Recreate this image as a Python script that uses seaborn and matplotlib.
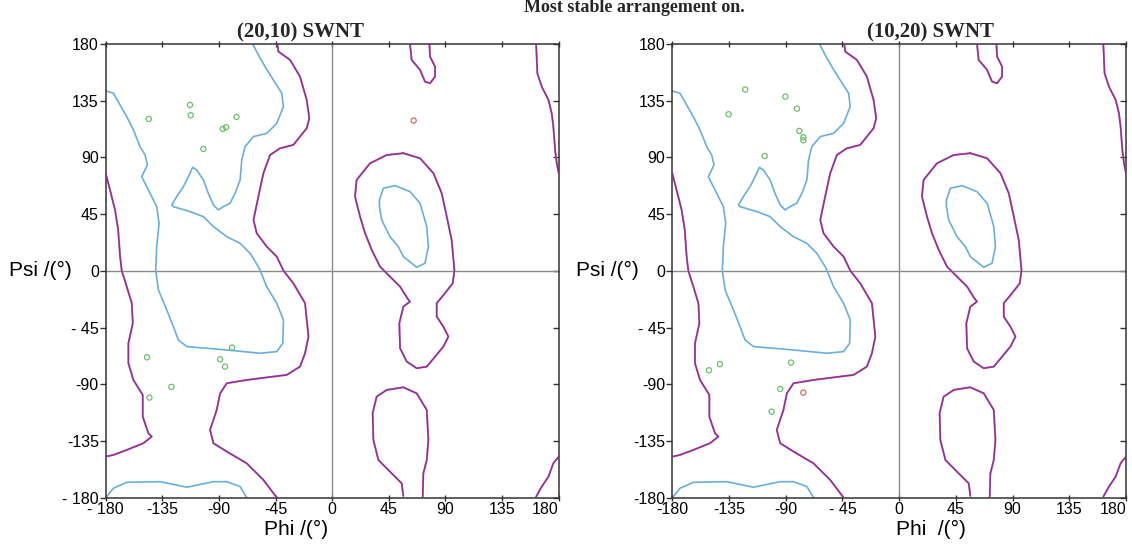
import matplotlib
matplotlib.use("Agg")
import matplotlib.pyplot as plt
import matplotlib.lines as mlines
import seaborn as sns
import pandas as pd

# ---------------- data ----------------
panel_titles = ["(20,10) SWNT", "(10,20) SWNT"]
suptitle = "Most stable arrangement on."
tick_values = [-180, -135, -90, -45, 0, 45, 90, 135, 180]
x_ticklabels = [["- 180", "-135", "-90", "-45", "0", "45", "90", "135", "180"],
                ["-180", "-135", "-90", "- 45", "0", "45", "90", "135", "180"]]
y_ticklabels = [["- 180", "-135", "-90", "- 45", "0", "45", "90", "135", "180"],
                ["-180", "-135", "-90", "- 45", "0", "45", "90", "135", "180"]]
x_labels = ["Phi /(°)", "Phi  /(°)"]
y_label = "Psi /(°)"

# favoured-region contours (blue)
blue_main_phi = [-180, -173.9, -168.6, -163.3, -158, -152.7, -148.7, -146.9, -151.4, -146.1, -139.5, -137.6,
                 -139.5, -140.3, -138.1, -131.5, -126.2, -122.3, -115.6, -83.8, -57.4, -44.1, -39.3, -38.8,
                 -44.1, -52.1, -57.4, -58.7, -65.3, -73.2, -83.8, -94.4, -102.4, -113, -126.2, -127.5,
                 -123.6, -118.3, -114.3, -110.9, -107.7, -102.4, -98.5, -94.4, -90.5, -86.5, -81.2, -77.2,
                 -73.2, -71.9, -69.3, -62.6, -52, -44.1, -38.8, -40.1, -46.8, -53.4, -58.7, -63.2]
blue_main_psi = [142.7, 140.9, 131.6, 122.3, 111.8, 98.5, 91.9, 84, 74.7, 64.2, 51, 37.7,
                 19.2, 0.2, -15.2, -31, -44.3, -54.8, -60.1, -62.8, -65.4, -64.1, -57.5, -39,
                 -25.7, -12.5, 0.7, 3.3, 13.9, 21.8, 27.1, 35.1, 43, 47, 50.9, 52.3,
                 58.9, 66.8, 74.7, 82.1, 80, 72.1, 61.5, 52.3, 48.3, 51, 53.6, 61.5,
                 72.1, 88, 98.5, 106.5, 109.1, 117, 130.3, 140.9, 151.4, 162, 171.3, 180]
blue_bottom_phi = [-179.2, -173.9, -163.3, -136.8, -115.6, -94.4, -83.8, -73.2, -67.9]
blue_bottom_psi = [-179.2, -172.5, -167.8, -167.3, -171.7, -167.3, -167.3, -171.2, -180]
blue_alphaL_phi = [37.5, 40.6, 49.9, 61.8, 69.8, 75.1, 76.4, 73.7, 67.1, 56.5, 52.5, 45.9, 39.3, 37.5, 37.5]
blue_alphaL_psi = [56.2, 65.5, 67.6, 62.8, 53.6, 35.1, 19.2, 6, 2.8, 11.3, 19.2, 27.1, 40.4, 51, 56.2]

# allowed-region contours (purple)
purple_left_phi = [-180, -176.6, -172.6, -170.1, -168.6, -167.3, -163.3, -159.3, -158.5, -162, -162, -158,
                   -150.6, -150.6, -146.1, -143.4, -150.1, -163.3, -173.9, -180]
purple_left_psi = [77.4, 64.2, 48.3, 32.4, 11.3, 0.2, -12.5, -25.7, -41.6, -57.5, -73.4, -86.6,
                   -98.5, -115.7, -128.9, -131.5, -136.8, -142.1, -146.1, -147.4]
purple_main_phi = [-43.6, -42.8, -33.5, -25.6, -20.3, -18.2, -20.3, -30.9, -41.5, -49.4, -54.7, -58.7,
                   -62.6, -60, -52, -44.1, -38.8, -30.9, -21.6, -18.9, -21.6, -25.6, -36.2, -46.8,
                   -68, -83.8, -89.1, -91.8, -97.1, -94.4, -83.8, -68, -54.7, -44.1]
purple_main_psi = [180, 174, 167.3, 154.1, 135.6, 121, 113.1, 99.9, 97.2, 91.9, 77.4, 58.9,
                   40.4, 29.8, 19.2, 11.3, 0.2, -9.9, -25.7, -52.2, -65.4, -76, -82.6, -83.9,
                   -86.6, -89.2, -97.2, -110.4, -126.2, -136.8, -143.4, -152.7, -165.9, -179.9]
purple_top_phi = [61.8, 63.1, 69.8, 73.7, 77.7, 81.7, 81.7, 77.7, 77.2]
purple_top_psi = [180, 167.3, 159.4, 150.1, 148.8, 154.1, 162, 170, 180]
purple_bottom_phi = [56.5, 55.2, 45.9, 36.7, 32.7, 32.1, 35.3, 43.3, 56.5, 67.1, 75.1, 76.4, 75.1, 72.4, 71.9]
purple_bottom_psi = [-178.6, -168.6, -159.3, -150.1, -134.2, -113, -99.8, -94.5, -92.4, -97.2, -110.4,
                     -134.2, -150.1, -160.7, -179.2]
purple_alphaL_phi = [56.5, 69.8, 80.4, 87, 91, 94.9, 97.1, 95.7, 89.6, 83, 83, 88.3, 92.3, 88.3, 81.7,
                     75.1, 67.1, 59.2, 53.9, 53.3, 56.5, 61.8, 59.7, 53.9, 45.9, 38, 31.4, 26.1, 22.1,
                     18.1, 19.4, 30, 43.3, 56.5]
purple_alphaL_psi = [93.3, 89.3, 77.4, 61.5, 43, 24.5, 0.2, -9.9, -17.8, -25.7, -36.3, -44.3, -52.2, -60.1,
                     -68.1, -76, -77.3, -72, -61.5, -41.6, -28.4, -24.4, -21.8, -12.5, -4.6, 3.3, 16.6,
                     29.8, 43, 58.9, 72.1, 85.3, 91.9, 93.3]
purple_tr_phi = [162, 163, 166.5, 171.8, 174.4, 175.7, 177.1, 178.4, 180]
purple_tr_psi = [180, 156.7, 146.1, 135.6, 125, 114.4, 95.9, 85.3, 77.4]
purple_br_phi = [180, 175.7, 171.8, 166.5, 162]
purple_br_psi = [-147.4, -152.7, -163.3, -171.2, -179.2]

# residue points: (phi, psi) per panel
green_phi = [[-145.8, -113, -112.5, -102.4, -87, -84.4, -76.1, -79.6, -147.2, -89.1, -85.2, -127.8, -145.3],
             [-122.1, -135.3, -90.3, -81.1, -79.2, -76, -76, -106.7, -150.9, -142.2, -85.8, -94.3, -101.2]]
green_psi = [[120.5, 131.6, 123.4, 96.7, 112.6, 113.9, 122.1, -60.9, -68.6, -70.2, -76, -92.1, -100.6],
             [143.8, 124.2, 138.2, 128.7, 111, 106, 103.6, 91.1, -78.9, -74.1, -72.8, -93.7, -111.7]]
red_phi = [[64.7], [-76]]
red_psi = [[119.2], [-96.6]]

# ---------------- style ----------------
sns.set_theme(style="white")
plt.rcParams["font.family"] = ["Liberation Sans", "DejaVu Sans"]

BLUE = "#6aaedf"
PURPLE = "#8e338c"
GREEN = "#6cbf6c"
RED = "#d46a6a"

fig = plt.figure(figsize=(11.32, 5.48), dpi=100)
axes = [fig.add_axes([0.0934, 0.0918, 0.4002, 0.828]),
        fig.add_axes([0.5939, 0.0918, 0.4008, 0.828])]

blue_lines = [(blue_main_phi, blue_main_psi), (blue_bottom_phi, blue_bottom_psi),
              (blue_alphaL_phi, blue_alphaL_psi)]
purple_lines = [(purple_left_phi, purple_left_psi), (purple_main_phi, purple_main_psi),
                (purple_top_phi, purple_top_psi), (purple_bottom_phi, purple_bottom_psi),
                (purple_alphaL_phi, purple_alphaL_psi), (purple_tr_phi, purple_tr_psi),
                (purple_br_phi, purple_br_psi)]

title_x = [0.43, 0.57]
xlabel_x = [0.42, 0.57]
ylabel_x = [-0.145, -0.143]

for i, ax in enumerate(axes):
    ax.axhline(0, color="#8a8a8a", lw=1.0, zorder=1)
    ax.axvline(0, color="#8a8a8a", lw=1.0, zorder=1)
    for px, py in blue_lines:
        sns.lineplot(data=pd.DataFrame({"phi": px, "psi": py}), x="phi", y="psi", sort=False,
                     estimator=None, color=BLUE, lw=1.2, ax=ax, zorder=2)
    for px, py in purple_lines:
        d = pd.DataFrame({"phi": px, "psi": py})
        sns.lineplot(data=d, x="phi", y="psi", sort=False, estimator=None,
                     color="#d77ad7", lw=1.4, ax=ax, zorder=2)
        sns.lineplot(data=d, x="phi", y="psi", sort=False, estimator=None,
                     color=PURPLE, lw=1.1, ax=ax, zorder=3)
    sns.scatterplot(x=green_phi[i], y=green_psi[i], ax=ax, s=14, marker="o",
                    facecolor="none", edgecolor=GREEN, linewidth=0.9, zorder=4)
    sns.scatterplot(x=red_phi[i], y=red_psi[i], ax=ax, s=14, marker="o",
                    facecolor="none", edgecolor=RED, linewidth=0.9, zorder=4)

    ax.set_xlim(-180, 180)
    ax.set_ylim(-180, 180)
    ax.set_xticks(tick_values)
    ax.set_yticks(tick_values)
    ax.set_xticklabels(x_ticklabels[i], fontsize=11.5, color="black")
    ax.set_yticklabels(y_ticklabels[i], fontsize=11.5, color="black")
    ax.tick_params(axis="both", which="both", bottom=True, left=True, top=True, right=True,
                   labelbottom=True, labelleft=True, labeltop=False, labelright=False,
                   length=4, width=1, color="#333333", pad=1)
    ax.tick_params(axis="x", which="both", top=True, direction="inout")
    ax.tick_params(axis="y", which="both", right=True, direction="out")
    for sp in ax.spines.values():
        sp.set_color("#333333")
        sp.set_linewidth(1.1)
    ax.set_xlabel(x_labels[i], fontsize=15, color="black")
    ax.xaxis.set_label_coords(xlabel_x[i], -0.05)
    ax.set_ylabel(y_label, fontsize=15, rotation=0, color="black")
    ax.yaxis.set_label_coords(ylabel_x[i], 0.5)
    ax.yaxis.label.set_verticalalignment("center")
    ax.set_title(panel_titles[i], fontsize=15, fontweight="bold", family="Liberation Serif",
                 x=title_x[i], pad=5)
    # last x tick label tucked in at the right edge
    ax.get_xticklabels()[-1].set_horizontalalignment("right")
    ax.get_xticklabels()[-1].set_x(179)

# right-spine ticks point inwards
for ax in axes:
    for t in ax.yaxis.get_major_ticks():
        t.tick2line.set_marker(mlines.TICKLEFT)
        t.tick2line.set_markersize(4)

fig.text(0.56, 1 - 12 / 548, suptitle, ha="center", va="baseline", fontsize=13,
         fontweight="bold", family="Liberation Serif")

fig.savefig("out.png", dpi=100)
